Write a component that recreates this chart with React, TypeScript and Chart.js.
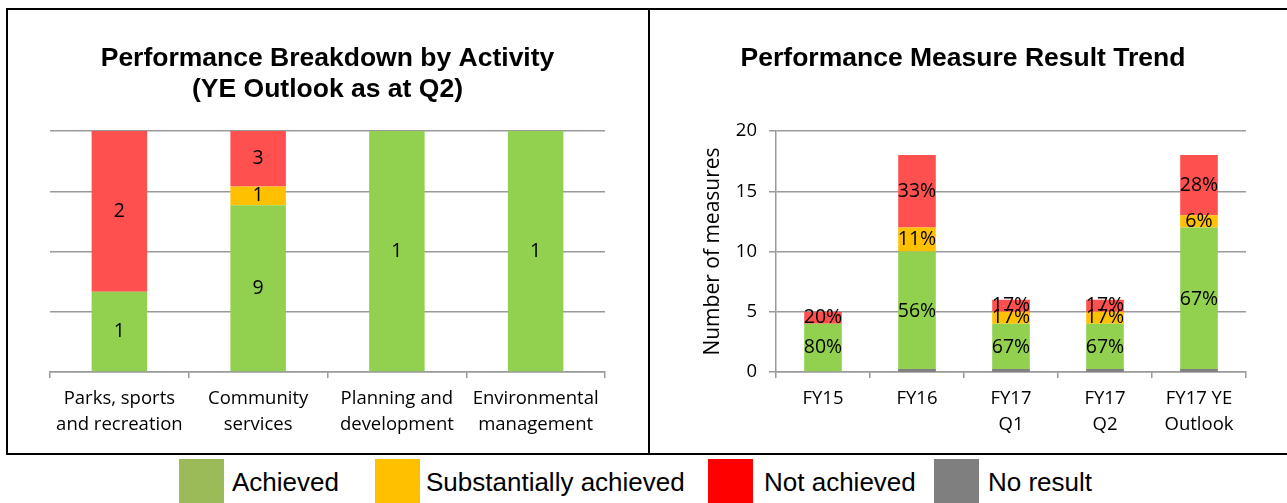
import React, { useEffect, useRef } from "react";
import { Chart, registerables } from "chart.js";

Chart.register(...registerables);

// ---------- Data ----------
const activityCategories = [
  ["Parks, sports", "and recreation"],
  ["Community", "services"],
  ["Planning and", "development"],
  ["Environmental", "management"],
];
const activityAchieved = [1, 9, 1, 1];
const activitySubstantially = [0, 1, 0, 0];
const activityNotAchieved = [2, 3, 0, 0];

const trendCategories = [["FY15"], ["FY16"], ["FY17", "Q1"], ["FY17", "Q2"], ["FY17 YE", "Outlook"]];
const trendAchieved = [4, 10, 4, 4, 12];
const trendSubstantially = [0, 2, 1, 1, 1];
const trendNotAchieved = [1, 6, 1, 1, 5];
const trendNoResult: (number | null)[] = [null, 0, 0, 0, 0];

const trendYMin = 0;
const trendYMax = 20;
const trendYStep = 5;

const legendLabels = ["Achieved", "Substantially achieved", "Not achieved", "No result"];

const activityTitle = ["Performance Breakdown by Activity", "(YE Outlook as at Q2)"];
const trendTitle = "Performance Measure Result Trend";
const trendYTitle = "Number of measures";

// ---------- Styles ----------
const GREEN = "#92D050";
const YELLOW = "#FFC000";
const RED = "#FF5050";
const GREY = "#808080";
const GRID = "#9a9a9a";
const LEGEND_COLORS = ["#9BBB59", "#FFC000", "#FF0000", "#7F7F7F"];
const LEGEND_SWATCH_X = [179, 375, 708, 934];
const LEGEND_TEXT_X = [232, 426, 764, 988];

const TITLE_FONT = { family: '"Liberation Sans", Arial, sans-serif', size: 26.5, weight: "bold" as const, lineHeight: 31 / 26.5 };
const AXIS_FONT = { family: '"Open Sans", sans-serif', size: 18.5, lineHeight: 26 / 18.5 };
const LABEL_FONT = '19.5px "Open Sans", sans-serif';

// ---------- Plugin: labels centred in bar segments ----------
const barLabelsPlugin = {
  id: "barLabels",
  afterDatasetsDraw(chart: any, _args: any, opts: any) {
    const fmt = opts && opts.formatter;
    if (!fmt) return;
    const ctx = chart.ctx;
    ctx.save();
    ctx.font = opts.font || LABEL_FONT;
    ctx.fillStyle = opts.color || "#000";
    ctx.textAlign = "center";
    ctx.textBaseline = "middle";
    chart.data.datasets.forEach((_ds: any, di: number) => {
      const meta = chart.getDatasetMeta(di);
      if (meta.hidden) return;
      meta.data.forEach((el: any, i: number) => {
        const text = fmt(di, i);
        if (!text) return;
        const p = el.getProps(["x", "y", "base"], true);
        ctx.fillText(text, p.x, (p.y + p.base) / 2);
      });
    });
    ctx.restore();
  },
};

// ---------- Derived tables ----------
const activityTotals = activityCategories.map(
  (_c, i) => activityAchieved[i] + activitySubstantially[i] + activityNotAchieved[i]
);
const share = (arr: number[]) => arr.map((v, i) => v / activityTotals[i]);
const activitySeries = [activityAchieved, activitySubstantially, activityNotAchieved];

const trendTotals = trendCategories.map(
  (_c, i) => trendAchieved[i] + trendSubstantially[i] + trendNotAchieved[i]
);
const trendSeries = [trendNoResult, trendAchieved, trendSubstantially, trendNotAchieved];

function ChartCanvas({ makeConfig, left, top, width, height }: any) {
  const ref = useRef<HTMLCanvasElement>(null);
  useEffect(() => {
    const chart = new Chart(ref.current as HTMLCanvasElement, makeConfig());
    return () => chart.destroy();
  }, []);
  return (
    <canvas
      ref={ref}
      width={width}
      height={height}
      style={{ position: "absolute", left, top, width, height }}
    />
  );
}

const activityConfig = (): any => ({
  type: "bar",
  data: {
    labels: activityCategories,
    datasets: [
      { label: "Achieved", data: share(activityAchieved), backgroundColor: GREEN },
      { label: "Substantially achieved", data: share(activitySubstantially), backgroundColor: YELLOW },
      { label: "Not achieved", data: share(activityNotAchieved), backgroundColor: RED },
    ],
  },
  options: {
    responsive: false,
    animation: false,
    devicePixelRatio: 1,
    layout: { padding: { left: 42, right: 43, top: 0, bottom: 7 } },
    datasets: { bar: { barPercentage: 0.4, categoryPercentage: 1 } },
    plugins: {
      legend: { display: false },
      tooltip: { enabled: false },
      title: {
        display: true,
        text: activityTitle,
        color: "#000",
        font: TITLE_FONT,
        padding: { top: 33.5, bottom: 25.5 },
      },
      barLabels: {
        font: LABEL_FONT,
        formatter: (di: number, i: number) => {
          const v = activitySeries[di][i];
          return v > 0 ? String(v) : null;
        },
      },
    },
    scales: {
      x: {
        stacked: true,
        grid: {
          display: true,
          drawOnChartArea: false,
          drawTicks: true,
          tickLength: 6,
          offset: true,
          color: GRID,
          lineWidth: 1.5,
        },
        border: { display: true, color: GRID, width: 1.5 },
        ticks: { color: "#000", font: AXIS_FONT, padding: 8, maxRotation: 0, autoSkip: false },
      },
      y: {
        stacked: true,
        min: 0,
        max: 1,
        ticks: { display: false, stepSize: 0.25 },
        grid: { color: GRID, lineWidth: 1.5, drawTicks: false },
        border: { display: false },
        afterFit: (s: any) => {
          s.width = 0;
        },
      },
    },
  },
  plugins: [barLabelsPlugin],
});

const trendConfig = (): any => ({
  type: "bar",
  data: {
    labels: trendCategories,
    datasets: [
      { label: "No result", data: trendNoResult, backgroundColor: GREY, yAxisID: "y2", minBarLength: 3 },
      { label: "Achieved", data: trendAchieved, backgroundColor: GREEN },
      { label: "Substantially achieved", data: trendSubstantially, backgroundColor: YELLOW },
      { label: "Not achieved", data: trendNotAchieved, backgroundColor: RED },
    ],
  },
  options: {
    responsive: false,
    animation: false,
    devicePixelRatio: 1,
    layout: { padding: { left: 30, right: 41, top: 0, bottom: 7 } },
    datasets: { bar: { barPercentage: 0.4, categoryPercentage: 1 } },
    plugins: {
      legend: { display: false },
      tooltip: { enabled: false },
      title: {
        display: true,
        text: trendTitle,
        color: "#000",
        font: TITLE_FONT,
        padding: { top: 33.5, bottom: 56.5 },
      },
      barLabels: {
        font: LABEL_FONT,
        formatter: (di: number, i: number) => {
          if (di === 0) return null;
          const v = trendSeries[di][i] as number;
          if (!v) return null;
          return Math.round((v / trendTotals[i]) * 100) + "%";
        },
      },
    },
    scales: {
      x: {
        stacked: true,
        grid: {
          display: true,
          drawOnChartArea: false,
          drawTicks: true,
          tickLength: 6,
          offset: true,
          color: GRID,
          lineWidth: 1.5,
        },
        border: { display: true, color: GRID, width: 1.5 },
        ticks: { color: "#000", font: AXIS_FONT, padding: 8, maxRotation: 0, autoSkip: false },
      },
      y: {
        stacked: true,
        min: trendYMin,
        max: trendYMax,
        ticks: { stepSize: trendYStep, color: "#000", font: AXIS_FONT, padding: 12 },
        grid: { color: GRID, lineWidth: 1.5, tickLength: 7 },
        border: { display: true, color: GRID, width: 1.5 },
        title: {
          display: true,
          text: trendYTitle,
          color: "#000",
          font: { family: '"Open Sans", sans-serif', size: 21, lineHeight: 1.2 },
          padding: { top: 20.4, bottom: 0 },
        },
        afterFit: (s: any) => {
          s.width = 96;
        },
      },
      y2: {
        display: false,
        stacked: false,
        min: trendYMin,
        max: trendYMax,
      },
    },
  },
  plugins: [barLabelsPlugin],
});

export default function App() {
  const line = (left: number, top: number, width: number, height: number) => (
    <div style={{ position: "absolute", left, top, width, height, background: "#000" }} />
  );
  return (
    <div
      style={{
        position: "absolute",
        left: 0,
        top: 0,
        width: 1287,
        height: 503,
        overflow: "hidden",
        background: "#fff",
      }}
    >
      <ChartCanvas makeConfig={activityConfig} left={8} top={10} width={640} height={443} />
      <ChartCanvas makeConfig={trendConfig} left={650} top={10} width={637} height={443} />
      {line(6, 8, 1281, 2)}
      {line(6, 8, 2, 447)}
      {line(648, 8, 2, 447)}
      {line(6, 453, 1281, 2)}
      {legendLabels.map((lab, i) => (
        <React.Fragment key={lab}>
          <div
            style={{
              position: "absolute",
              left: LEGEND_SWATCH_X[i],
              top: 459,
              width: 45,
              height: 44,
              background: LEGEND_COLORS[i],
            }}
          />
          <div
            style={{
              position: "absolute",
              left: LEGEND_TEXT_X[i],
              top: 467,
              fontFamily: '"Liberation Sans", Arial, sans-serif',
              fontSize: 26,
              lineHeight: "30px",
              color: "#000",
              whiteSpace: "nowrap",
            }}
          >
            {lab}
          </div>
        </React.Fragment>
      ))}
    </div>
  );
}
